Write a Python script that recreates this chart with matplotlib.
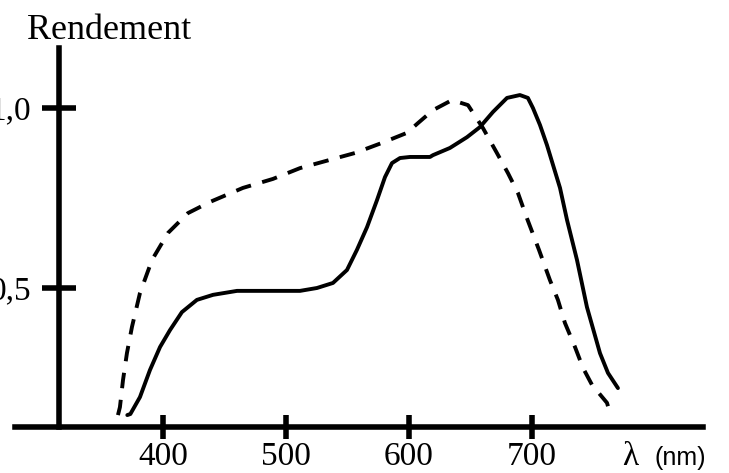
import numpy as np
import matplotlib.pyplot as plt

# Courbe en trait plein (lambda en nm, rendement)
lam_plein = [371.0, 373.5, 381.3, 389.4, 397.6, 405.7, 415.4, 427.6, 440.7, 460.2,
             478.9, 511.4, 525.2, 538.2, 549.6, 557.7, 565.9, 574.0, 580.5, 586.2,
             592.7, 600.8, 617.1, 619.5, 633.3, 647.2, 657.7, 668.3, 679.7, 690.2,
             696.7, 700.8, 706.5, 712.2, 717.1, 722.8, 728.5, 736.6, 744.7, 755.3,
             761.8, 769.9]
rend_plein = [0.147, 0.150, 0.197, 0.272, 0.336, 0.383, 0.433, 0.467, 0.481, 0.492,
              0.492, 0.492, 0.500, 0.514, 0.550, 0.606, 0.669, 0.744, 0.808, 0.847,
              0.861, 0.864, 0.864, 0.869, 0.889, 0.919, 0.947, 0.989, 1.028, 1.036,
              1.028, 1.000, 0.953, 0.897, 0.842, 0.778, 0.689, 0.578, 0.447, 0.319,
              0.264, 0.222]

# Courbe en tirets
lam_tirets = [363.4, 365.0, 367.5, 370.7, 374.8, 381.3, 391.1, 404.1, 420.3, 438.2,
              465.0, 489.4, 511.4, 535.8, 556.1, 578.0, 598.4, 607.3, 619.5, 635.0,
              648.0, 660.2, 671.5, 680.5, 688.6, 695.9, 705.7, 714.6, 721.1, 726.8,
              735.0, 741.5, 748.8, 761.0, 763.0]
rend_tirets = [0.147, 0.169, 0.244, 0.319, 0.392, 0.486, 0.578, 0.653, 0.708, 0.739,
               0.778, 0.803, 0.833, 0.856, 0.875, 0.903, 0.931, 0.958, 0.994, 1.022,
               1.008, 0.944, 0.875, 0.819, 0.764, 0.694, 0.606, 0.522, 0.467, 0.403,
               0.336, 0.278, 0.231, 0.181, 0.158]

xticks = [400, 500, 600, 700]
xlabels = ["400", "500", "600", "700"]
yticks = [0.5, 1.0]
ylabels = ["0,5", "1,0"]

serif = "Liberation Serif"

fig = plt.figure(figsize=(7.29, 4.73), dpi=100)
ax = fig.add_axes([0, 0, 1, 1])
ax.set_xlim(267.5, 860.2)
ax.set_ylim(-0.0139, 1.3)

ax.plot(lam_plein, rend_plein, color="black", lw=2.8,
        solid_capstyle="round", solid_joinstyle="round")
ax.plot(lam_tirets, rend_tirets, color="black", lw=2.8, linestyle=(0, (4, 3)),
        dash_joinstyle="round")

# axes en croix
for s in ["top", "right"]:
    ax.spines[s].set_visible(False)
ax.spines["left"].set_position(("data", 315.4))
ax.spines["left"].set_bounds(0.114, 1.167)
ax.spines["bottom"].set_position(("data", 0.114))
ax.spines["bottom"].set_bounds(279.7, 839)
for s in ["left", "bottom"]:
    ax.spines[s].set_linewidth(4)

ax.set_xticks(xticks)
ax.set_xticklabels(xlabels, fontfamily=serif, fontsize=24)
ax.set_yticks(yticks)
ax.set_yticklabels(ylabels, fontfamily=serif, fontsize=24)
ax.tick_params(axis="x", direction="inout", length=17, width=4, pad=2)
ax.tick_params(axis="y", direction="inout", length=24, width=4, pad=8)

fig.text(27 / 729, 1 - 39 / 473, "Rendement", fontfamily=serif, fontsize=26,
         ha="left", va="baseline")
fig.text(622 / 729, 1 - 465 / 473, "λ", fontfamily=serif, fontsize=24,
         ha="left", va="baseline")
fig.text(654 / 729, 1 - 465 / 473, "(nm)", fontfamily="Liberation Sans", fontsize=18,
         ha="left", va="baseline")

fig.savefig("out.png", dpi=100)
